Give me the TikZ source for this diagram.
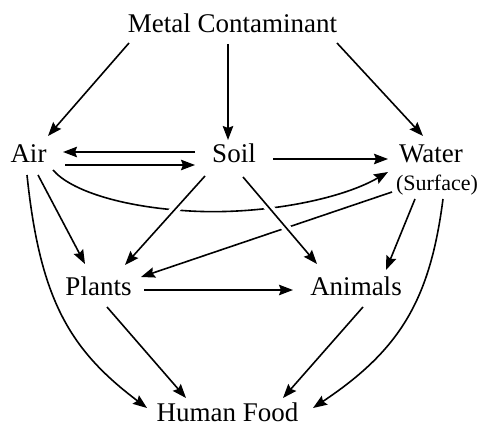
\documentclass[tikz,border=0pt]{standalone}
\usepackage{fontspec}
\setmainfont{Liberation Serif}
\usetikzlibrary{arrows.meta,calc}
\begin{document}
\begin{tikzpicture}[x=1pt,y=-1pt,
  lbl/.style={inner sep=0pt,anchor=base,font=\fontsize{27}{31}\selectfont},
  small/.style={inner sep=0pt,anchor=base,font=\fontsize{22}{26}\selectfont},
  arr/.style={line width=1.6pt,-{Stealth[length=14pt,width=10.5pt,inset=2pt]}}]
\useasboundingbox (0,0) rectangle (480,428);
\node[lbl] (meta) at (232.5,33) {Metal Contaminant};
\node[lbl] (air) at (28.5,162) {Air};
\node[lbl] (soil) at (234,163) {Soil};
\node[lbl] (water) at (431,163) {Water};
\node[small] (surf) at (437,190) {(Surface)};
\node[lbl] (plants) at (98.5,295) {Plants};
\node[lbl] (animals) at (356,295) {Animals};
\node[lbl] (food) at (227.5,421) {Human Food};
% from metal
\draw[arr] ($(meta.base)+(-103.5,10)$) -- ($(air.base)+(19.5,-26)$);
\draw[arr] ($(meta.base)+(-4.5,11)$) -- ($(soil.base)+(-6,-23)$);
\draw[arr] ($(meta.base)+(104.5,10)$) -- ($(water.base)+(-8,-27)$);
% air <-> soil
\draw[arr] ($(soil.base)+(-39,-11)$) -- ($(air.base)+(34.5,-10)$);
\draw[arr] ($(air.base)+(36.5,3)$) -- ($(soil.base)+(-39,2)$);
\draw[arr] ($(soil.base)+(39,-4)$) -- ($(water.base)+(-43,-4)$);
% air -> water curve
\draw[arr] ($(air.base)+(24.5,8)$) .. controls (70,190) and (120,207) .. (190,211)
  .. controls (260,215) and (340,200) .. ($(water.base)+(-43,9)$);
% water -> plants
\draw[arr] ($(surf.base)+(-45,2)$) -- ($(plants.base)+(42.5,-18)$);
% soil -> plants / animals (on top)
\draw[arr,preaction={draw=white,line width=9pt,-,shorten <=30pt,shorten >=55pt}]
  ($(soil.base)+(-29,13)$) -- ($(plants.base)+(26.5,-30)$);
\draw[arr,preaction={draw=white,line width=9pt,-,shorten <=25pt,shorten >=34pt}]
  ($(soil.base)+(9,14)$) -- ($(animals.base)+(-39,-31)$);
% water -> animals, food
\draw[arr] ($(surf.base)+(-22,9)$) -- ($(animals.base)+(30,-25)$);
\draw[arr] ($(surf.base)+(6,9)$) .. controls (430,300) and (400,350) .. ($(food.base)+(85.5,-13)$);
% air -> plants, food
\draw[arr] ($(air.base)+(9.5,13)$) -- ($(plants.base)+(-13.5,-31)$);
\draw[arr] ($(air.base)+(-1.5,13)$) .. controls (40,300) and (70,350) .. ($(food.base)+(-80.5,-13)$);
% plants, animals
\draw[arr] ($(plants.base)+(45.5,-5)$) -- ($(animals.base)+(-63,-5)$);
\draw[arr] ($(plants.base)+(8.5,12)$) -- ($(food.base)+(-41.5,-23)$);
\draw[arr] ($(animals.base)+(7,12)$) -- ($(food.base)+(55.5,-23)$);
\end{tikzpicture}
\end{document}
